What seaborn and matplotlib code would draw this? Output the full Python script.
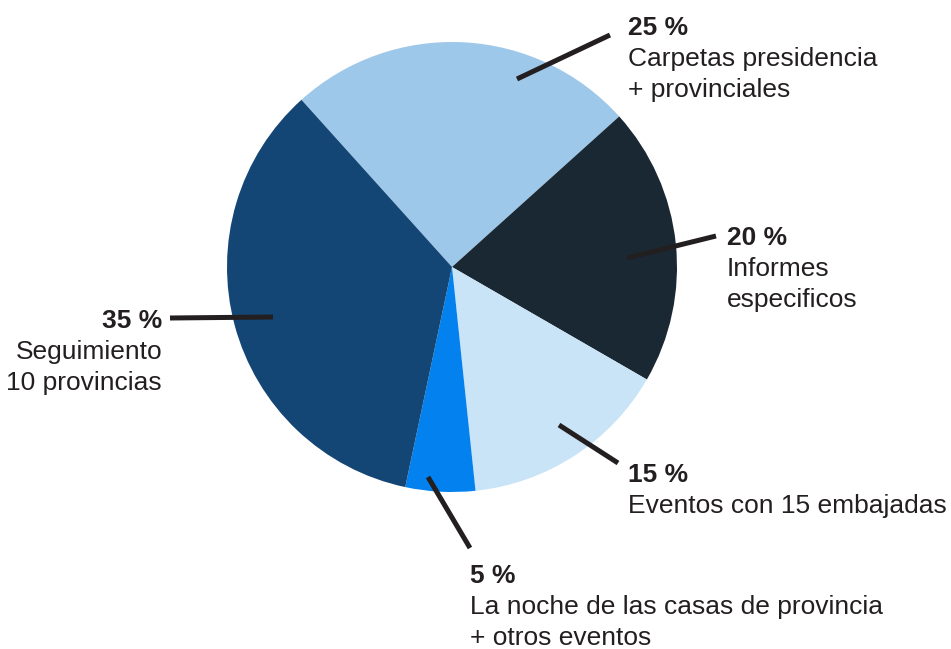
import matplotlib
matplotlib.use("Agg")
import matplotlib.pyplot as plt
import seaborn as sns

#%% data

shares = [25, 20, 15, 5, 35]
pct_labels = ["25 %", "20 %", "15 %", "5 %", "35 %"]
descriptions = [["Carpetas presidencia", "+ provinciales"],
                ["Informes", "especificos"],
                ["Eventos con 15 embajadas"],
                ["La noche de las casas de provincia", "+ otros eventos"],
                ["Seguimiento", "10 provincias"]]
slice_colors = ["#9ec8ea", "#1a2834", "#c9e3f7", "#0381ee", "#144675"]

#%% layout (pixels in the 951x649 picture)

cx, cy, rad = 452, 267, 225
# leader line inner end, outer end, text anchor (x, first baseline), alignment
leaders = [((517, 79), (610, 35), (628, 35), "left"),
           ((627, 258), (716, 236), (727, 245), "left"),
           ((559, 425), (618, 463), (628, 482), "left"),
           ((428, 477), (470, 548), (470, 583), "left"),
           ((273, 317), (170, 318), (162, 328), "right")]
line_step = 31.2


def px(x, y):
    return (x - cx) / rad, (cy - y) / rad


#%% plotting

sns.set_theme(style="white")
plt.rcParams['font.family'] = ['Liberation Sans', 'DejaVu Sans']
text_col = "#231f20"

fig = plt.figure(figsize=(9.51, 6.49), dpi=100)
ax = fig.add_axes([0, 0, 1, 1])
ax.pie(shares, colors=sns.color_palette(slice_colors), startangle=132,
       counterclock=False, radius=1, center=(0, 0),
       wedgeprops={'linewidth': 0})

for i, (p0, p1, t, ha) in enumerate(leaders):
    x0, y0 = px(*p0)
    x1, y1 = px(*p1)
    ax.plot([x0, x1], [y0, y1], color=text_col, lw=3.6, solid_capstyle='butt', zorder=5)
    tx, ty = px(*t)
    ax.text(tx, ty, pct_labels[i], ha=ha, va='baseline', fontsize=19,
            fontweight='bold', color=text_col)
    for j, line in enumerate(descriptions[i]):
        lx, ly = px(t[0], t[1] + line_step * (j + 1))
        ax.text(lx, ly, line, ha=ha, va='baseline', fontsize=19, color=text_col)

ax.set_xlim(px(0, 0)[0], px(951, 0)[0])
ax.set_ylim(px(0, 649)[1], px(0, 0)[1])
ax.set_aspect('auto')
ax.axis('off')

fig.savefig("out.png", dpi=100, facecolor="white")
